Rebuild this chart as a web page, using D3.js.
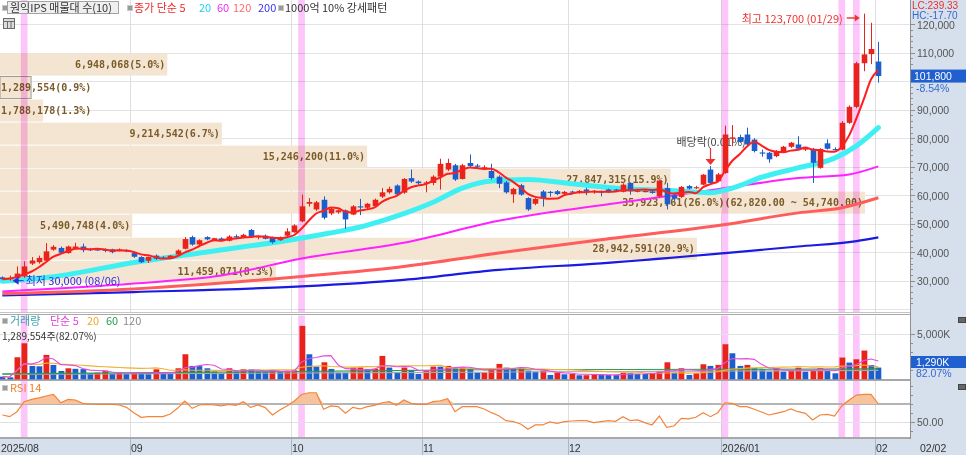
<!DOCTYPE html>
<html>
<head>
<meta charset="utf-8">
<style>
  html, body { margin: 0; padding: 0; background: #fff; overflow: hidden; }
  svg { display: block; }
  text { font-family: "Liberation Sans", Arial, sans-serif; }
  .kr { font-family: "Noto Sans CJK KR", "Noto Sans", sans-serif; font-size: 11px; }
  .axis-label { font-size: 10.5px; fill: #555; }
  .band-label { font-family: "DejaVu Sans Mono", monospace; font-size: 10px; font-weight: bold; fill: #7a5a28; }
</style>
<script src="https://cdn.jsdelivr.net/npm/d3@7"></script>
</head>
<body>
<svg id="chart" width="966" height="455"></svg>
<script>
/* ==== data ==== */

// KRX closed days inside the window
const holidays = ["2025-08-15", "2025-10-03", "2025-10-06", "2025-10-07", "2025-10-08",
  "2025-10-09", "2025-12-25", "2025-12-31", "2026-01-01"];
// 1000억 10% 강세패턴 days (pink columns)
const strongDays = ["2025-08-08", "2025-10-02", "2026-01-02", "2026-01-26", "2026-01-28"];

const openP = [31200,30500,31000,31500,36000,36500,37000,40900,41500,39700,
  41200,42000,41100,41000,40900,41000,40500,40700,39700,38300,
  37000,38800,38100,37700,39200,41200,45300,42700,45300,44300,
  44800,44000,45600,45100,47800,45300,45800,45300,44200,45800,
  47000,50800,57000,55000,58400,53600,54000,54700,53200,56100,
  55600,56200,59500,61000,63400,60900,66000,64800,64000,64300,
  66500,69000,70500,65700,71300,70400,69300,68500,66500,64500,
  60300,63500,59000,57000,61300,61200,61400,60500,61300,61000,
  62000,61000,61300,62000,62000,61200,64300,61200,61300,61300,
  59600,62500,60000,59400,63200,62700,63700,69000,64900,67800,
  79800,80400,81300,79500,75000,74900,73700,75100,77000,77800,
  76000,76300,69600,78200,76200,76000,85400,91000,106300,109500,
  106900];
const highP = [31500,31800,35000,36800,38300,38800,43200,42500,42000,42300,
  43300,43000,41500,41500,41300,41200,41300,41000,40000,38600,
  38500,39200,38600,39000,41000,45300,45800,44500,45600,45000,
  45200,46000,46200,46500,48200,45900,46200,45500,45500,48400,
  49800,60200,59000,58000,59600,55600,55000,55000,56500,58700,
  57300,58800,62500,63000,63800,66000,69000,65200,65000,67000,
  72800,72800,71000,71000,74300,71000,70500,71000,67000,65000,
  62600,64000,59300,59000,61800,61500,61800,61500,61600,61800,
  62600,61800,61600,62300,62200,64200,64500,62000,61800,61600,
  65300,64300,60500,63200,63600,63300,67400,70200,67800,84400,
  84600,81200,83700,80000,76000,75200,75800,77300,78700,80700,
  76800,76600,76500,79600,76800,86000,91500,106800,123700,120500,
  113800];
const lowP = [30500,30000,30500,31000,35500,36000,36800,40500,39500,39500,
  41000,40000,40400,40500,40000,39600,40300,40000,38000,36200,
  36200,37300,37500,37500,39000,41000,42300,42500,44200,44000,
  43700,43800,44800,44900,45300,44500,44500,43000,44000,45600,
  46800,50500,56000,54500,51500,53000,53500,48200,53000,53000,
  55000,56000,59000,60500,60000,60500,64300,63600,61000,63500,
  62000,68500,65000,65500,69700,69500,68800,65500,62500,60500,
  57300,59800,54500,56500,56000,59500,60000,60200,60800,60500,
  60000,60500,59600,60800,61500,61000,60200,61000,61000,60500,
  59300,55000,58000,59000,62000,62200,63500,64000,64600,67500,
  77200,78400,77500,75000,73500,71400,73300,74800,76600,75800,
  75500,64300,69300,76000,75600,75800,85000,90500,103500,106000,
  99500];
const closeP = [30500,31000,32500,35000,37100,38000,40300,41900,39800,42000,
  42000,40700,40700,40800,40700,40000,41000,40300,38400,36500,
  38300,37700,37900,38800,40600,44600,42700,44200,44500,44900,
  44000,45500,45300,46100,45600,45600,44700,43500,45300,47300,
  49400,56100,57600,57500,52100,55200,54700,51500,56100,55800,
  57000,58400,61000,62200,60300,65700,64800,64200,64500,66500,
  71000,71300,65500,70500,70200,70100,69800,66000,64000,61000,
  62200,60200,55000,58700,59000,61000,60400,61200,61000,61500,
  61200,61500,60900,61000,61800,63700,61400,61600,61500,60800,
  65000,56800,58800,62900,62300,62800,67200,64300,67300,81300,
  80300,78700,77800,75500,74800,72600,75400,77000,78400,76300,
  76500,71400,76200,76300,76000,85400,91000,106300,109400,111300,
  101800];

// volume, thousands of shares
const volK = [290,220,2420,3960,1470,1430,2680,1580,920,1210,
  1150,1120,660,730,950,590,700,590,700,590,
  560,1100,660,620,1210,2750,1470,1450,1210,850,
  660,1210,850,1100,1080,850,830,880,850,950,
  980,5870,2750,1400,1870,1140,730,720,1290,1300,
  1140,1160,2570,1290,730,1290,1030,590,950,1400,
  1390,1470,1210,1320,1210,730,730,1100,1690,1280,
  1140,1290,950,840,950,480,730,550,590,440,
  450,590,480,470,460,730,660,590,580,660,
  920,1870,730,1210,480,660,1650,1470,1580,3850,
  2860,1470,1580,1210,1100,840,1210,840,950,1280,
  840,1030,1210,1030,660,2390,1840,2200,3160,1570,
  1290];

const rsi14 = [57.6,55.7,61.3,72.6,75.2,77,79,80.8,71.4,75.2,
  74.5,70.7,70,69.6,69.6,69.6,68.9,66.2,60.2,54.9,
  55.7,55.7,55.7,58.7,65.1,73.4,65.1,68.9,69.6,68.9,
  67.8,69.6,68.5,72.6,66.2,68.9,65.9,57.6,63.2,67.8,
  73.4,80.8,82.7,82.7,64,67.8,67,59.5,66.2,64.4,
  67,68.5,71.4,72.6,68.5,74.5,70.7,69.6,69.6,72.6,
  73.7,76,61.3,67,67,67,64.4,60.2,56.8,51.2,
  50,47.4,41.4,46.3,46.3,49.7,48.2,50,50.8,51.2,
  51.2,48.9,50,51.2,50.4,55.7,51.2,52,48.9,46.3,
  56.4,43.6,45.1,53.8,53.1,55,60.2,55.7,60.2,71.4,
  70.7,67,67,64,61,57.6,59.5,61.3,64.4,61.3,
  59.5,52,57.6,58.3,56.4,67.8,74.5,80.1,80.8,80.8,
  70];

// moving averages read at points along the lines: [candle index, value]
const ma20Pts = [[0,29800],[7,31400],[18,36400],[27,39700],[41,45000],[50,49500],[55,53500],
  [59,57500],[63,62500],[67,65000],[72,65500],[78,64000],[85,62300],[91,61700],[97,60900],
  [100,62500],[104,66300],[109,69600],[114,73000],[117,77300],[120,83700]];
const ma60Pts = [[0,26200],[18,29000],[30,31800],[41,37800],[55,43300],[68,51000],[84,57200],
  [96,61400],[99,62500],[109,66000],[116,67300],[120,70100]];
const ma120Pts = [[0,25400],[18,27100],[41,31500],[55,35000],[68,39700],[82,44400],[99,49700],
  [109,53800],[115,55600],[120,59100]];
const ma200Pts = [[0,24800],[18,26000],[41,28000],[55,30300],[68,33800],[82,36100],[99,39700],
  [109,42000],[117,43900],[120,45200]];
const volMa60Pts = [[0,600],[40,850],[66,1050],[99,1100],[120,1150]];
const volMa120Pts = [[0,520],[60,760],[120,980]];

// 매물대 (10 bins, lowest first)
const bandVolumes = [11459071, 28942591, 5490748, 35923761, 27847315, 15246200, 9214542, 1788178, 1289554, 6948068];
const bandPct = [8.3, 20.9, 4.0, 26.0, 15.9, 11.0, 6.7, 1.3, 0.9, 5.0];

const priceTicks = [20000, 30000, 40000, 50000, 60000, 70000, 80000, 90000, 100000, 110000, 120000];

/* ==== layout ==== */
const W = 966, H = 455, PLOT_R = 910;
const PANEL_BG = "#d6e0ed";
const RED = "#e8231b", BLUE = "#1c5fcc";
const BAND_DY = 4;   // the HTS draws the profile a few pixels below the bin edges
const fmtDay = d3.timeFormat("%Y-%m-%d");

const dates = d3.timeDay.range(new Date(2025, 7, 5), new Date(2026, 1, 3))
  .filter(d => d.getDay() !== 0 && d.getDay() !== 6 && !holidays.includes(fmtDay(d)));
const n = dates.length;

const STEP = 7.3, X0 = -1.3;
const x = d3.scaleBand().domain(d3.range(n)).range([X0, X0 + STEP * n]);
const cx = i => x(i) + x.bandwidth() / 2;

const yP = d3.scaleLinear().domain([30000, 120000]).range([280.7, 24.2]);
const yV = d3.scaleLinear().domain([0, 5000]).range([379.3, 333.8]);
const yR = d3.scaleLinear().domain([50, 70]).range([421.7, 404]);

const svg = d3.select("#chart");

svg.append("rect").attr("width", W).attr("height", H).attr("fill", "#fff");
svg.append("rect").attr("x", PLOT_R).attr("width", W - PLOT_R).attr("height", H).attr("fill", PANEL_BG);
svg.append("rect").attr("y", 439).attr("width", W).attr("height", H - 439).attr("fill", PANEL_BG);

// horizontal price grid
svg.append("g").selectAll("line").data(priceTicks).join("line")
  .attr("x1", 0).attr("x2", PLOT_R)
  .attr("y1", d => Math.round(yP(d)) + 0.5).attr("y2", d => Math.round(yP(d)) + 0.5)
  .attr("stroke", "#e3e3e3");

// month gridlines
const monthStarts = d3.range(n).filter(i => i === 0 || dates[i].getMonth() !== dates[i - 1].getMonth());
const vgrid = svg.append("g");
monthStarts.filter(i => i > 0).forEach(i => {
  const gx = Math.round(x(i)) + 0.5;
  vgrid.append("line").attr("x1", gx).attr("x2", gx).attr("y1", 0).attr("y2", 439).attr("stroke", "#dedede");
  vgrid.append("line").attr("x1", gx).attr("x2", gx).attr("y1", 439).attr("y2", H).attr("stroke", "#a9b6c6");
});

// 매물대 bars
const binLo = d3.min(closeP), binHi = d3.max(closeP);
const binW = (binHi - binLo) / bandVolumes.length;
const bands = bandVolumes.map((v, k) => ({ lo: binLo + k * binW, hi: binLo + (k + 1) * binW, vol: v, pct: bandPct[k] }));
const bx = d3.scaleLinear().domain([0, d3.max(bandVolumes)]).range([0, 865]);
const lastClose = closeP[n - 1];
const maxBand = d3.maxIndex(bandVolumes);
const fmtInt = d3.format(","), fmt2 = d3.format(",.2f");

const bandG = svg.append("g");
bands.forEach((b, k) => {
  const top = yP(b.hi) + BAND_DY, bot = yP(b.lo) + BAND_DY;
  const cur = lastClose >= b.lo && lastClose < b.hi;
  bandG.append("rect")
    .attr("x", 0).attr("y", top + 0.5)
    .attr("width", bx(b.vol)).attr("height", bot - top - 1)
    .attr("fill", "#f4e5d2")
    .attr("stroke", cur ? "#9a9a9a" : "none");
  let label = fmtInt(b.vol) + "(" + b.pct.toFixed(1) + "%)";
  if (k === maxBand) label += "(" + fmt2(b.hi) + " ~ " + fmt2(b.lo) + ")";
  const t = bandG.append("text").attr("class", "band-label")
    .attr("y", (top + bot) / 2 + 3.5).attr("text-anchor", "end").text(label);
  const len = t.node().getComputedTextLength();
  t.attr("x", Math.max(bx(b.vol) - 2, len + 1));
});

// strong-pattern columns
svg.append("g").selectAll("rect").data(strongDays.map(s => dates.findIndex(d => fmtDay(d) === s))).join("rect")
  .attr("x", i => x(i) + 0.2).attr("width", STEP - 0.6)
  .attr("y", 0).attr("height", 438)
  .attr("fill", "#fcc6fa").style("mix-blend-mode", "multiply");

// 배당락 text (under the candles)
const exDiv = 97;
svg.append("text").attr("class", "kr").attr("x", cx(exDiv) - 34).attr("y", 146)
  .attr("fill", "#444").text("배당락(0.01%)");

// long moving averages
const ptLine = ys => d3.line().x(d => cx(d[0])).y(d => ys(d[1])).curve(d3.curveMonotoneX);
const maG = svg.append("g").attr("fill", "none");
maG.append("path").attr("d", ptLine(yP)(ma200Pts)).attr("stroke", "#1a1ae0").attr("stroke-width", 2.2);
maG.append("path").attr("d", ptLine(yP)(ma120Pts)).attr("stroke", "#ff5c5c").attr("stroke-width", 3);
maG.append("path").attr("d", ptLine(yP)(ma60Pts)).attr("stroke", "#ff22ff").attr("stroke-width", 2);
maG.append("path").attr("d", ptLine(yP)(ma20Pts)).attr("stroke", "#3ef0f2").attr("stroke-width", 5)
  .attr("stroke-linecap", "round");

// candles
const candleG = svg.append("g");
d3.range(n).forEach(i => {
  const o = openP[i], c = closeP[i];
  const col = c >= o ? RED : BLUE;
  const px = Math.round(cx(i)) + 0.5;
  candleG.append("line").attr("x1", px).attr("x2", px)
    .attr("y1", yP(highP[i])).attr("y2", yP(lowP[i])).attr("stroke", col);
  const top = yP(Math.max(o, c)), h = Math.max(1.2, Math.abs(yP(o) - yP(c)));
  candleG.append("rect").attr("x", px - 2.8).attr("width", 5.6)
    .attr("y", top).attr("height", h).attr("fill", col);
});

// 5-day MA on top
const ma5 = closeP.map((c, i) => d3.mean(closeP.slice(Math.max(0, i - 4), i + 1)));
svg.append("path").attr("fill", "none").attr("stroke", "#ff1e1e").attr("stroke-width", 2)
  .attr("d", d3.line().x((d, i) => cx(i)).y(d => yP(d)).curve(d3.curveMonotoneX)(ma5));

// annotations
const hiIdx = d3.maxIndex(highP), loIdx = d3.minIndex(lowP);
const ann = svg.append("g");
const hx = cx(hiIdx);
ann.append("text").attr("class", "kr").attr("x", hx - 21).attr("y", 22.5)
  .attr("text-anchor", "end").attr("fill", "#f0302c")
  .text("최고 " + fmtInt(highP[hiIdx]) + " (" + d3.timeFormat("%m/%d")(dates[hiIdx]) + ")");
ann.append("path").attr("d", `M${hx - 17},18 H${hx - 7}`).attr("stroke", "#f0302c").attr("stroke-width", 1.4);
ann.append("path").attr("d", `M${hx - 4},18 l-5,-3.5 v7 z`).attr("fill", "#f0302c");

ann.append("path").attr("d", `M${cx(loIdx) + 3},${yP(lowP[loIdx])} l6,-4 v8 z`).attr("fill", "#2b2be0");
ann.append("path").attr("d", `M${cx(loIdx) + 8},${yP(lowP[loIdx])} H${cx(loIdx) + 14}`).attr("stroke", "#2b2be0");
ann.append("text").attr("class", "kr").attr("x", cx(loIdx) + 16).attr("y", yP(lowP[loIdx]) + 4)
  .attr("fill", "#2b2be0")
  .text("최저 " + fmtInt(lowP[loIdx]) + " (" + d3.timeFormat("%m/%d")(dates[loIdx]) + ")");

const ax = Math.round(cx(exDiv)) + 0.5;
ann.append("line").attr("x1", ax).attr("x2", ax).attr("y1", 148).attr("y2", 160).attr("stroke", "#f0302c").attr("stroke-width", 1.2);
ann.append("path").attr("d", `M${ax - 5},159 h10 l-5,6 z`).attr("fill", "#f0302c");

// pane separators
const sep = svg.append("g");
sep.append("rect").attr("x", 0).attr("y", 312).attr("width", PLOT_R).attr("height", 3.5).attr("fill", "#fff");
sep.append("line").attr("x1", 0).attr("x2", PLOT_R).attr("y1", 312.5).attr("y2", 312.5).attr("stroke", "#c4c4c4");
sep.append("line").attr("x1", 0).attr("x2", PLOT_R).attr("y1", 314.5).attr("y2", 314.5).attr("stroke", "#a8a8a8");
sep.append("line").attr("x1", 0).attr("x2", PLOT_R).attr("y1", 380).attr("y2", 380).attr("stroke", "#a8a8a8").attr("stroke-width", 2);
sep.append("line").attr("x1", 0).attr("x2", PLOT_R).attr("y1", 438).attr("y2", 438).attr("stroke", "#a8a8a8").attr("stroke-width", 2);

// volume pane
svg.append("line").attr("x1", 0).attr("x2", PLOT_R).attr("y1", Math.round(yV(5000)) + 0.5).attr("y2", Math.round(yV(5000)) + 0.5).attr("stroke", "#e3e3e3");
svg.append("g").selectAll("rect").data(volK).join("rect")
  .attr("x", (d, i) => Math.round(cx(i)) - 2.5).attr("width", 5.8)
  .attr("y", d => yV(d)).attr("height", d => yV(0) - yV(d))
  .attr("fill", (d, i) => i > 0 && d >= volK[i - 1] ? RED : BLUE);

const volMa = w => volK.map((v, i) => d3.mean(volK.slice(Math.max(0, i - w + 1), i + 1)));
const volLine = d3.line().x((d, i) => cx(i)).y(d => yV(d));
const vmaG = svg.append("g").attr("fill", "none").attr("stroke-width", 1.1);
vmaG.append("path").attr("d", ptLine(yV)(volMa120Pts)).attr("stroke", "#a8a8a8");
vmaG.append("path").attr("d", ptLine(yV)(volMa60Pts)).attr("stroke", "#2f9a55");
vmaG.append("path").attr("d", volLine(volMa(20))).attr("stroke", "#f2b030");
vmaG.append("path").attr("d", volLine(volMa(5))).attr("stroke", "#e24fe0");

// RSI pane
svg.append("line").attr("x1", 0).attr("x2", PLOT_R).attr("y1", Math.round(yR(50)) + 0.5).attr("y2", Math.round(yR(50)) + 0.5).attr("stroke", "#e0e0e0");
svg.append("line").attr("x1", 0).attr("x2", PLOT_R).attr("y1", yR(70)).attr("y2", yR(70)).attr("stroke", "#b4b4b4").attr("stroke-width", 2);
svg.append("path").attr("fill", "#f7c39d").attr("stroke", "none")
  .attr("d", d3.area().x((d, i) => cx(i)).y0(yR(70)).y1(d => yR(Math.max(70, d)))(rsi14));
svg.append("path").attr("fill", "none").attr("stroke", "#f4843c").attr("stroke-width", 1.2)
  .attr("d", d3.line().x((d, i) => cx(i)).y(d => yR(d))(rsi14));

// right axis
const axisG = svg.append("g");
axisG.append("line").attr("x1", PLOT_R + 0.5).attr("x2", PLOT_R + 0.5).attr("y1", 0).attr("y2", 439).attr("stroke", "#8f8f8f");
d3.range(22000, 121000, 2000).forEach(v => {
  const ty = Math.round(yP(v)) + 0.5, major = v % 10000 === 0;
  axisG.append("line").attr("x1", PLOT_R).attr("x2", PLOT_R + (major ? 5 : 3)).attr("y1", ty).attr("y2", ty).attr("stroke", "#8f8f8f");
});
// labels that the current-price box would cover are left out
priceTicks.filter(v => yP(v) < 300 && Math.abs(yP(v) - yP(lastClose)) > 16).forEach(v => {
  axisG.append("text").attr("class", "axis-label").attr("x", PLOT_R + 7).attr("y", yP(v) + 4.5).text(fmtInt(v));
});
[1000, 2000, 3000, 4000, 5000].forEach(v => {
  const ty = Math.round(yV(v)) + 0.5;
  axisG.append("line").attr("x1", PLOT_R).attr("x2", PLOT_R + (v === 5000 ? 5 : 3)).attr("y1", ty).attr("y2", ty).attr("stroke", "#8f8f8f");
});
axisG.append("text").attr("class", "axis-label").attr("x", PLOT_R + 7).attr("y", yV(5000) + 4).text("5,000K");
[40, 50, 60, 70, 80, 90].forEach(v => {
  const ty = Math.round(yR(v)) + 0.5;
  if (ty > 381 && ty < 438) axisG.append("line").attr("x1", PLOT_R).attr("x2", PLOT_R + (v === 50 ? 5 : 3)).attr("y1", ty).attr("y2", ty).attr("stroke", "#8f8f8f");
});
axisG.append("text").attr("class", "axis-label").attr("x", PLOT_R + 7).attr("y", yR(50) + 4).text("50.00");

// price info boxes
axisG.append("rect").attr("x", PLOT_R + 1).attr("y", 0).attr("width", W - PLOT_R).attr("height", 20.5).attr("fill", PANEL_BG);
axisG.append("text").attr("x", PLOT_R + 2).attr("y", 8.5).attr("font-size", "10px").attr("fill", "#e83030").text("LC:239.33");
axisG.append("text").attr("x", PLOT_R + 2).attr("y", 18.5).attr("font-size", "10px").attr("fill", "#3468d0").text("HC:-17.70");
axisG.append("rect").attr("x", PLOT_R + 1).attr("y", yP(lastClose) - 6.5).attr("width", W - PLOT_R).attr("height", 13).attr("fill", "#1f5fd0");
axisG.append("text").attr("x", PLOT_R + 4).attr("y", yP(lastClose) + 4).attr("font-size", "10.5px").attr("fill", "#fff").text(fmtInt(lastClose));
const chg = (lastClose / closeP[n - 2] - 1) * 100;
axisG.append("text").attr("x", PLOT_R + 6).attr("y", yP(lastClose) + 16).attr("font-size", "10.5px").attr("fill", "#3468d0").text(chg.toFixed(2) + "%");

const lastVol = volK[n - 1];
axisG.append("rect").attr("x", PLOT_R + 1).attr("y", 356).attr("width", W - PLOT_R).attr("height", 12).attr("fill", "#1f5fd0");
axisG.append("text").attr("x", PLOT_R + 6).attr("y", 366).attr("font-size", "10.5px").attr("fill", "#fff").text(fmtInt(lastVol) + "K");
axisG.append("text").attr("x", PLOT_R + 6).attr("y", 377).attr("font-size", "10.5px").attr("fill", "#3468d0").text("82.07%");

[317, 384].forEach(iy => {
  axisG.append("rect").attr("x", 958.5).attr("y", iy + 0.5).attr("width", 7).attr("height", 5).attr("fill", "#666").attr("stroke", "#444");
});

// bottom time axis
const timeG = svg.append("g");
monthStarts.forEach(i => {
  const d = dates[i];
  const label = (i === 0 || d.getMonth() === 0) ? d3.timeFormat("%Y/%m")(d) : d3.timeFormat("%m")(d);
  timeG.append("text").attr("x", Math.max(0, Math.round(x(i))) + 1).attr("y", 452)
    .attr("font-size", "10.5px").attr("fill", "#333").text(label);
});
timeG.append("text").attr("x", PLOT_R + 10).attr("y", 452).attr("font-size", "10.5px").attr("fill", "#333")
  .text(d3.timeFormat("%m/%d")(dates[n - 1]));

// legends
const leg = svg.append("g");
const sq = (lx, ly) => leg.append("rect").attr("x", lx + 0.5).attr("y", ly + 0.5).attr("width", 5).attr("height", 5)
  .attr("fill", "#9a9a9a").attr("stroke", "#c8c8c8");
const txt = (lx, ly, s, col) => leg.append("text").attr("class", "kr").attr("x", lx).attr("y", ly).attr("fill", col).text(s);

sq(2, 5);
leg.append("rect").attr("x", 7.5).attr("y", 1.5).attr("width", 111).attr("height", 12).attr("fill", "#efefef").attr("stroke", "#a4a4a4");
txt(10, 12, "원익IPS 매물대 수(10)", "#333");
sq(127, 5);
txt(134, 12, "종가 단순 5", "#f02828");
txt(199, 12, "20", "#1ed2ea");
txt(217, 12, "60", "#f02ef0");
txt(233, 12, "120", "#ff6a6a");
txt(258, 12, "200", "#3636f0");
sq(278, 5);
txt(285, 12, "1000억 10% 강세패턴", "#333");
leg.append("rect").attr("x", 3.5).attr("y", 18.5).attr("width", 11).attr("height", 10).attr("fill", "#dcdcdc").attr("stroke", "#6a6a6a");
leg.append("path").attr("d", "M4,21.5 H14 M7.5,21.5 V28 M11,21.5 V28").attr("stroke", "#6a6a6a").attr("fill", "none");

sq(2, 318);
txt(10, 324.5, "거래량", "#3aa2aa");
txt(50, 324.5, "단순 5", "#e044d8");
txt(87, 324.5, "20", "#f0a824");
txt(106, 324.5, "60", "#2a9a52");
txt(123, 324.5, "120", "#8c8c8c");
leg.append("text").attr("class", "kr").attr("x", 2).attr("y", 339.5).style("font-size", "10px").attr("fill", "#333")
  .text(fmtInt(Math.round(lastVol * 1000 - 446)) + "주(82.07%)");

sq(2, 385);
txt(10, 392, "RSI 14", "#f08030");
</script>
</body>
</html>
